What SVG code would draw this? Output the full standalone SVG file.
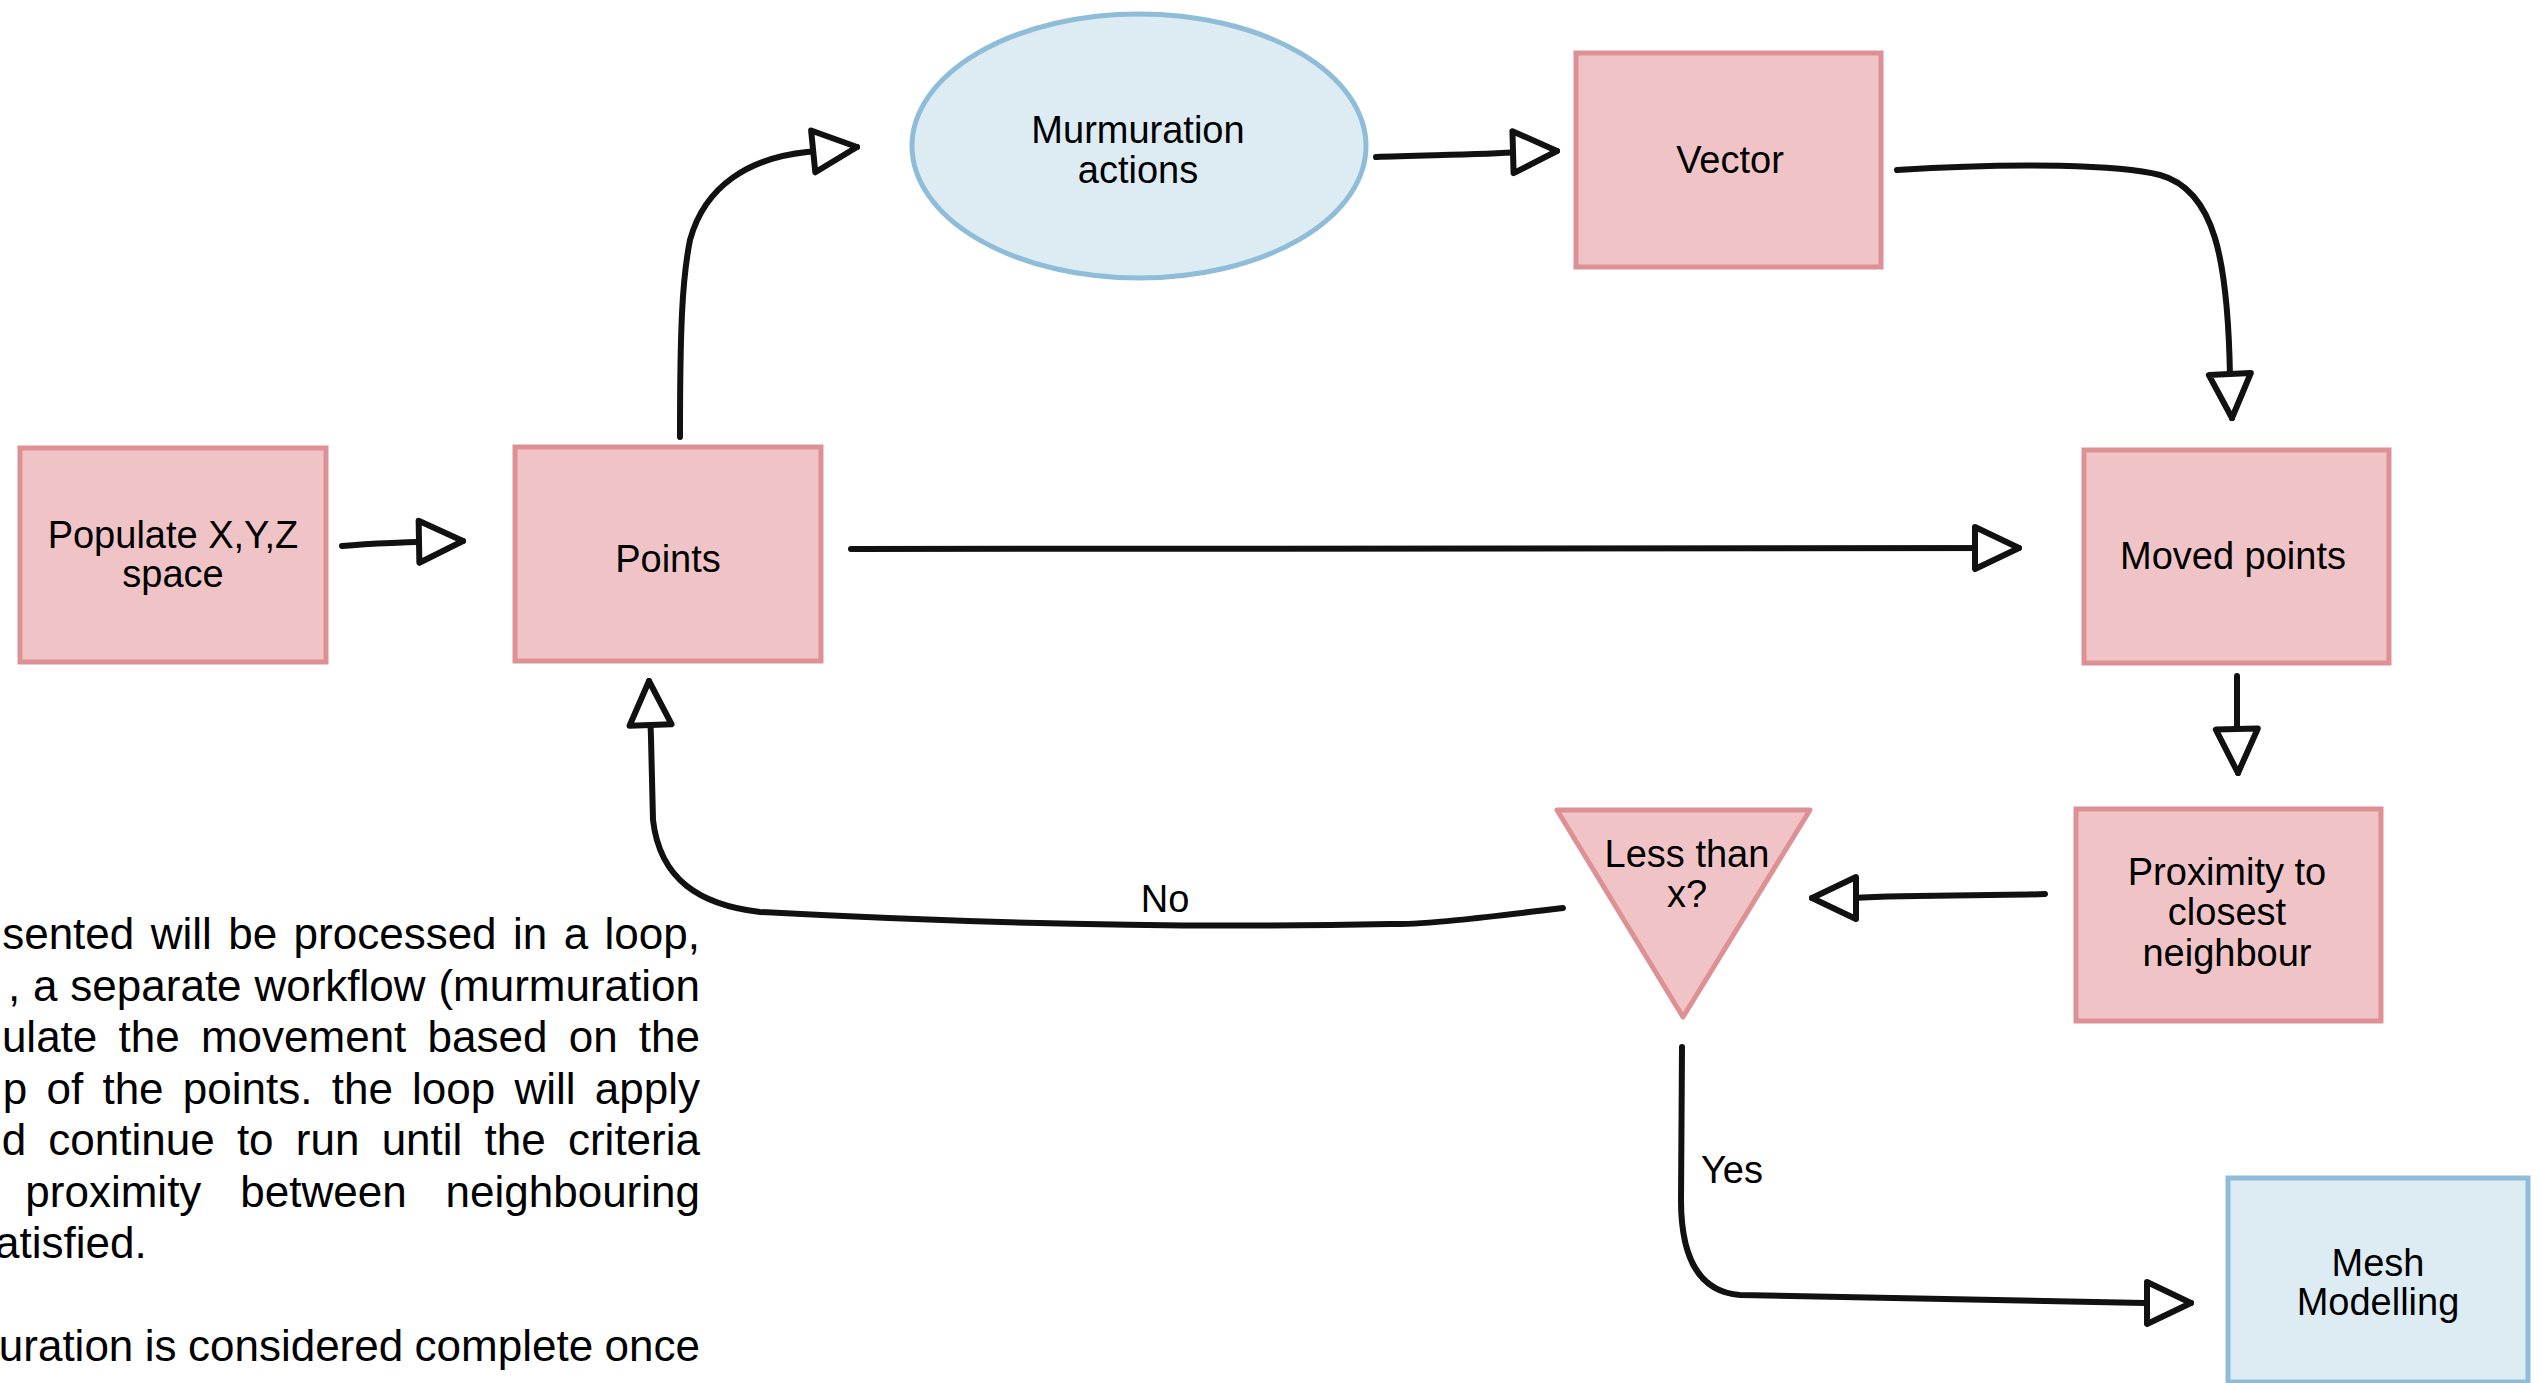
<svg xmlns="http://www.w3.org/2000/svg" width="2541" height="1383" viewBox="0 0 2541 1383">
<style>
.pink{fill:#F0C4C6;stroke:#DD9195;stroke-width:5}
.blue{fill:#DDEBF3;stroke:#8FBCD9;stroke-width:5}
.lbl{font-family:"Liberation Sans",Arial,Helvetica,sans-serif;font-size:38px;fill:#000;text-anchor:middle}
.para{font-family:"Liberation Sans",Arial,Helvetica,sans-serif;font-size:44px;fill:#000;text-anchor:end}
.conn{fill:none;stroke:#111;stroke-width:6;stroke-linecap:round;stroke-linejoin:round}
</style>
<defs>
<marker id="open" viewBox="-5 -5 54 52" markerWidth="54" markerHeight="52" refX="44" refY="21" orient="auto" markerUnits="userSpaceOnUse">
<path d="M0,0 L44,21 L0,42 Z" fill="#fff" stroke="#111" stroke-width="6" stroke-linejoin="round"/>
</marker>
</defs>
<rect width="2541" height="1383" fill="#fff"/>

<g id="paragraph">
<text class="para" x="700" y="949" word-spacing="4.2">sented will be processed in a loop,</text>
<text class="para" x="700" y="1000.5" word-spacing="0.6">, a separate workflow (murmuration</text>
<text class="para" x="700" y="1052" word-spacing="9">ulate the movement based on the</text>
<text class="para" x="700" y="1103.5" word-spacing="7">p of the points. the loop will apply</text>
<text class="para" x="700" y="1155" word-spacing="10">d continue to run until the criteria</text>
<text class="para" x="700" y="1206.5" word-spacing="26.7">proximity between neighbouring</text>
<text class="para" x="-5" y="1258" style="text-anchor:start">atisfied.</text>
<text class="para" x="700" y="1361" word-spacing="-0.8">uration is considered complete once</text>
</g>

<g id="connectors">
<path class="conn" marker-end="url(#open)" d="M342,546 C375,543 405,542 463,541"/>
<path class="conn" marker-end="url(#open)" d="M680,437 C680,330 682,280 690,240 C705,185 750,158 807,152 L857,147"/>
<path class="conn" marker-end="url(#open)" d="M1376,157 C1420,155 1480,155 1520,152 L1557,151"/>
<path class="conn" marker-end="url(#open)" d="M1897,170 C2020,162 2120,165 2160,175 C2215,190 2228,260 2230,377 L2232,418"/>
<path class="conn" marker-end="url(#open)" d="M851,549 L2019,548"/>
<path class="conn" marker-end="url(#open)" d="M2237,676 L2237,735 L2238,773"/>
<path class="conn" marker-end="url(#open)" d="M2045,894 C1990,896 1920,894 1852,898 L1812,898"/>
<path class="conn" marker-end="url(#open)" d="M1563,908 C1480,918 1420,925 1390,924 C1200,928 1000,925 760,912 C700,905 660,880 653,820 L651,738 L649,681"/>
<path class="conn" marker-end="url(#open)" d="M1682,1047 L1681,1200 C1681,1260 1700,1292 1740,1295 C1900,1297 2050,1300 2145,1303 L2191,1303"/>
<text class="lbl" x="1165" y="912">No</text>
<text class="lbl" x="1701" y="1183" style="text-anchor:start">Yes</text>
</g>

<g id="populate">
<rect class="pink" x="20" y="448" width="306" height="214"/>
<text class="lbl" x="173" y="548">Populate X,Y,Z</text>
<text class="lbl" x="173" y="587">space</text>
</g>

<g id="points">
<rect class="pink" x="515" y="447" width="306" height="214"/>
<text class="lbl" x="668" y="572">Points</text>
</g>

<g id="murmuration">
<ellipse class="blue" cx="1139" cy="146" rx="227" ry="132"/>
<text class="lbl" x="1138" y="143">Murmuration</text>
<text class="lbl" x="1138" y="183">actions</text>
</g>

<g id="vector">
<rect class="pink" x="1576" y="53" width="305" height="214"/>
<text class="lbl" x="1730" y="173">Vector</text>
</g>

<g id="moved">
<rect class="pink" x="2084" y="450" width="305" height="213"/>
<text class="lbl" x="2233" y="569">Moved points</text>
</g>

<g id="proximity">
<rect class="pink" x="2076" y="809" width="305" height="212"/>
<text class="lbl" x="2227" y="885">Proximity to</text>
<text class="lbl" x="2227" y="925">closest</text>
<text class="lbl" x="2227" y="966">neighbour</text>
</g>

<g id="decision">
<polygon class="pink" points="1557,810 1810,810 1683,1017" stroke-linejoin="round"/>
<text class="lbl" x="1687" y="867">Less than</text>
<text class="lbl" x="1687" y="907">x?</text>
</g>

<g id="mesh">
<rect class="blue" x="2228" y="1178" width="300" height="204"/>
<text class="lbl" x="2378" y="1276">Mesh</text>
<text class="lbl" x="2378" y="1315">Modelling</text>
</g>
</svg>
